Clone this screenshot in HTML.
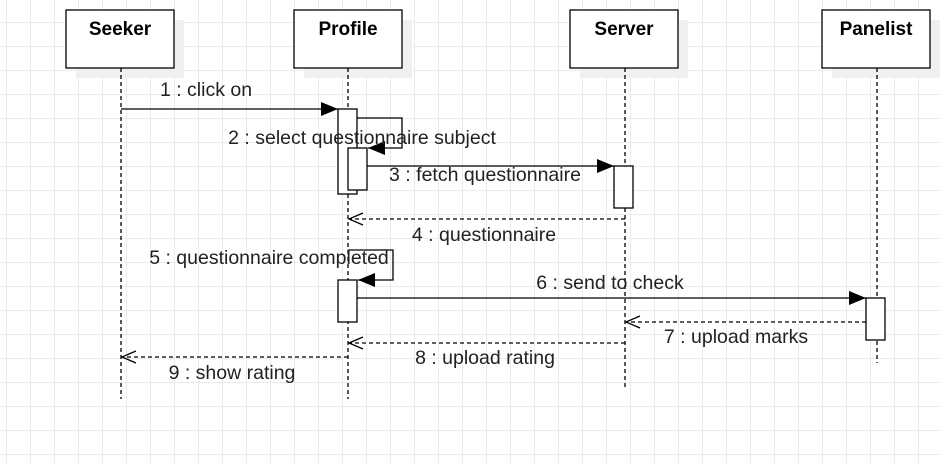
<!DOCTYPE html>
<html><head><style>
html,body{margin:0;padding:0;background:#fff;}
body{width:940px;height:463px;overflow:hidden;
background-image:linear-gradient(#ebebeb 1px,transparent 1px),linear-gradient(90deg,#ebebeb 1px,transparent 1px);
background-size:24px 24px;background-position:6px -2px;}
svg{position:absolute;left:0;top:0}
text{font-family:"Liberation Sans",sans-serif;font-size:19.5px;fill:#222}
.t{font-weight:bold;fill:#000;font-size:19px}
</style></head><body>
<svg width="940" height="463" viewBox="0 0 940 463">
<defs>
<marker id="f" markerWidth="18" markerHeight="14" refX="17" refY="7" orient="auto" markerUnits="userSpaceOnUse"><path d="M0,0 L17,7 L0,14 Z" fill="#000"/></marker>
<marker id="o" markerWidth="16" markerHeight="14" refX="15" refY="7" orient="auto" markerUnits="userSpaceOnUse"><path d="M1,1 L15,7 L1,13" fill="none" stroke="#000" stroke-width="1.3"/></marker>
</defs>
<g fill="#f0f0f0"><rect x="76" y="20" width="108" height="58"/><rect x="304" y="20" width="108" height="58"/><rect x="580" y="20" width="108" height="58"/><rect x="832" y="20" width="108" height="58"/></g>
<g fill="#fff" stroke="#000" stroke-width="1.3">
<rect x="66" y="10" width="108" height="58"/><rect x="294" y="10" width="108" height="58"/><rect x="570" y="10" width="108" height="58"/><rect x="822" y="10" width="108" height="58"/></g>
<text class="t" x="120" y="35" text-anchor="middle">Seeker</text>
<text class="t" x="348" y="35" text-anchor="middle">Profile</text>
<text class="t" x="624" y="35" text-anchor="middle">Server</text>
<text class="t" x="876" y="35" text-anchor="middle">Panelist</text>
<g stroke="#000" stroke-width="1.3" stroke-dasharray="4 3">
<line x1="121" y1="68" x2="121" y2="399"/><line x1="348" y1="68" x2="348" y2="399"/><line x1="625" y1="68" x2="625" y2="388"/><line x1="877" y1="68" x2="877" y2="363"/></g>
<g fill="#fff" stroke="#000" stroke-width="1.3">
<rect x="338" y="109" width="19" height="85"/>
<polyline points="357,118 402,118 402,148 368,148" fill="none" marker-end="url(#f)"/>
<rect x="348" y="148" width="19" height="42"/>
<rect x="614" y="166" width="19" height="42"/>
<polyline points="348,250 393,250 393,280 358,280" fill="none" marker-end="url(#f)"/>
<rect x="338" y="280" width="19" height="42"/>
<rect x="866" y="298" width="19" height="42"/>
</g>
<g stroke="#000" stroke-width="1.3" fill="none">
<line x1="121" y1="109" x2="338" y2="109" marker-end="url(#f)"/>
<line x1="367" y1="166" x2="614" y2="166" marker-end="url(#f)"/>
<line x1="357" y1="298" x2="866" y2="298" marker-end="url(#f)"/>
<g stroke-dasharray="4 3">
<line x1="625" y1="219" x2="349" y2="219" marker-end="url(#o)"/>
<line x1="866" y1="322" x2="626" y2="322" marker-end="url(#o)"/>
<line x1="625" y1="343" x2="349" y2="343" marker-end="url(#o)"/>
<line x1="348" y1="357" x2="122" y2="357" marker-end="url(#o)"/>
</g></g>
<text x="206" y="96" text-anchor="middle">1 : click on</text>
<text x="362" y="144" text-anchor="middle">2 : select questionnaire subject</text>
<text x="485" y="181" text-anchor="middle">3 : fetch questionnaire</text>
<text x="484" y="241" text-anchor="middle">4 : questionnaire</text>
<text x="269" y="264" text-anchor="middle">5 : questionnaire completed</text>
<text x="610" y="289" text-anchor="middle">6 : send to check</text>
<text x="736" y="343" text-anchor="middle">7 : upload marks</text>
<text x="485" y="364" text-anchor="middle">8 : upload rating</text>
<text x="232" y="379" text-anchor="middle">9 : show rating</text>
</svg>
</body></html>
